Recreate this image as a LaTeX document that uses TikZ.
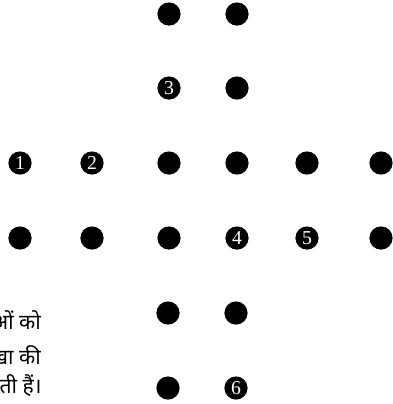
\documentclass[tikz,border=0pt]{standalone}
\usepackage{fontspec}
\setmainfont{Liberation Serif}
\newfontfamily\hindifont[Script=Devanagari]{Noto Sans}

\begin{document}
\begin{tikzpicture}[x=0.025cm, y=-0.025cm,
    dot/.style={circle, fill=black, minimum size=0.58cm, inner sep=0pt,
                text=white, font=\fontsize{14}{14}\selectfont},
    line/.style={anchor=east, inner sep=0pt, font=\hindifont\fontsize{15}{17}\selectfont}]
    \useasboundingbox (0,0) rectangle (393,404);
    \clip (0,0) rectangle (393,404);

    % Row 1
    \node[dot] (r1a) at (169,14) {};
    \node[dot] (r1b) at (237,14) {};

    % Row 2
    \node[dot] (r2a) at (169,88) {3};
    \node[dot] (r2b) at (237,88) {};

    % Row 3
    \node[dot] (r3a) at (20,163) {1};
    \node[dot] (r3b) at (92,163) {2};
    \node[dot] (r3c) at (169,163) {};
    \node[dot] (r3d) at (237,163) {};
    \node[dot] (r3e) at (307,163) {};
    \node[dot] (r3f) at (381,163) {};

    % Row 4
    \node[dot] (r4a) at (20,238) {};
    \node[dot] (r4b) at (92,238) {};
    \node[dot] (r4c) at (169,238) {};
    \node[dot] (r4d) at (237,238) {4};
    \node[dot] (r4e) at (307,238) {5};
    \node[dot] (r4f) at (381,238) {};

    % Row 5
    \node[dot] (r5a) at (168,313) {};
    \node[dot] (r5b) at (236,313) {};

    % Row 6
    \node[dot] (r6a) at (168,388) {};
    \node[dot] (r6b) at (236,388) {6};

    % Text (cut at the left edge)
    \node[line] (t1) at (41,323) {बिंदुओं को};
    \node[line] (t2) at (41,355) {रेखा की};
    \node[line] (t3) at (42,386) {जाती हैं।};
\end{tikzpicture}
\end{document}
